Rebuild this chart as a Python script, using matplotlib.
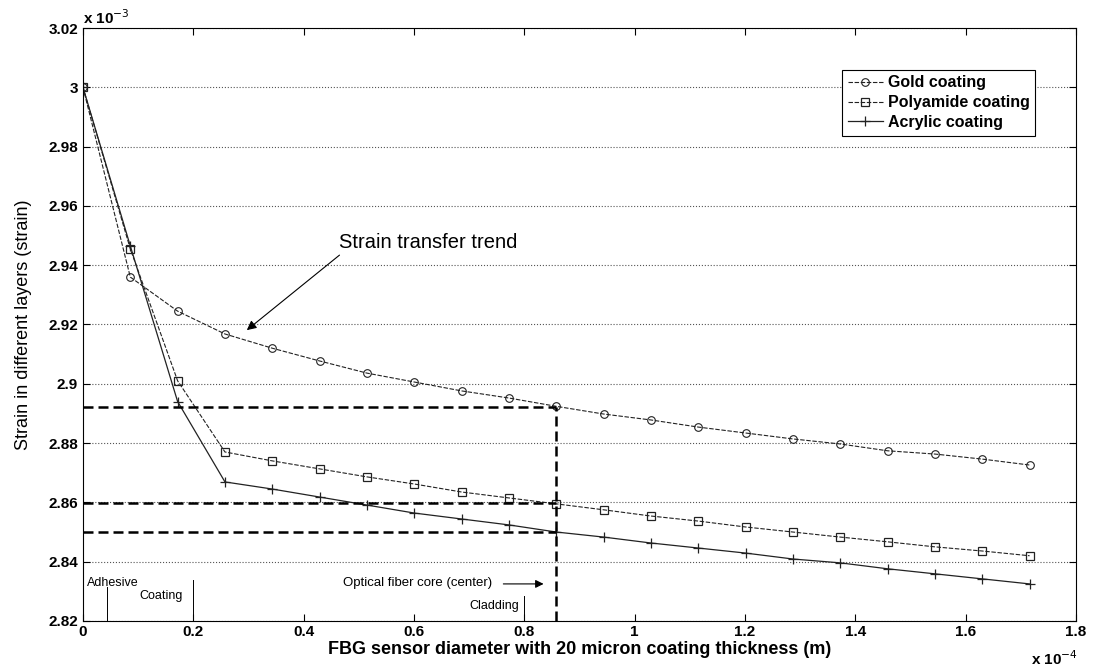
import numpy as np
import matplotlib
matplotlib.use('Agg')
import matplotlib.pyplot as plt

plt.rcParams['font.family'] = ['Liberation Sans', 'DejaVu Sans']

#region data (x in 1e-4 m, strain in 1e-3)
diameter = [0, 0.0858, 0.1716, 0.2574, 0.3432, 0.429, 0.5148, 0.6006, 0.6864, 0.7722, 0.858,
            0.9438, 1.0296, 1.1154, 1.2012, 1.287, 1.3728, 1.4586, 1.5444, 1.6302, 1.716]
gold = [3.000, 2.936, 2.9245, 2.9168, 2.912, 2.9077, 2.9036, 2.9006, 2.8976, 2.8952, 2.8924,
        2.8898, 2.8878, 2.8854, 2.8834, 2.8814, 2.8797, 2.8774, 2.8763, 2.8746, 2.8726]
polyamide = [3.000, 2.9455, 2.901, 2.877, 2.874, 2.8713, 2.8686, 2.8662, 2.8635, 2.8615, 2.8595,
             2.8575, 2.8554, 2.8537, 2.8517, 2.850, 2.8483, 2.8467, 2.845, 2.8436, 2.842]
acrylic = [3.000, 2.9465, 2.894, 2.8669, 2.8645, 2.8618, 2.8591, 2.8564, 2.8544, 2.8524, 2.850,
           2.8483, 2.8463, 2.8446, 2.8429, 2.8409, 2.8396, 2.8376, 2.8359, 2.8342, 2.8325]
series_names = ['Gold coating', 'Polyamide coating', 'Acrylic coating']

core_x = 0.858
level_gold = 2.8922
level_poly = 2.8597
level_acr = 2.850
#endregion

fig = plt.figure(figsize=[10.96, 6.67], dpi=100)
ax = fig.add_axes([0.0757, 0.069, 0.906, 0.889])

ax.plot(diameter, gold, color='#222222', lw=0.8, ls=(0, (4, 1.5)), marker='o', ms=5.5,
        mfc='none', mec='#222222', mew=0.8, label=series_names[0])
ax.plot(diameter, polyamide, color='#222222', lw=0.8, ls=(0, (4, 1.5)), marker='s', ms=6,
        mfc='none', mec='#222222', mew=0.9, label=series_names[1])
ax.plot(diameter, acrylic, color='#222222', lw=0.9, ls='-', marker='+', ms=7,
        mec='#222222', mew=0.9, label=series_names[2])

# dashed guide lines
for lev in [level_gold, level_poly, level_acr]:
    ax.plot([0, core_x], [lev, lev], color='black', lw=1.8, ls=(0, (4, 2)))
ax.plot([core_x, core_x], [2.82, level_gold], color='black', lw=1.8, ls=(0, (4, 2)))

# layer markers
ax.plot([0.0435, 0.0435], [2.82, 2.8315], color='black', lw=0.7)
ax.plot([0.2, 0.2], [2.82, 2.8339], color='black', lw=0.7)
ax.plot([0.8, 0.8], [2.82, 2.8285], color='black', lw=0.7)
ax.text(0.008, 2.8327, 'Adhesive', fontsize=9, va='center')
ax.text(0.103, 2.8285, 'Coating', fontsize=9, va='center')
ax.text(0.70, 2.8252, 'Cladding', fontsize=9, va='center')
ax.annotate('', xy=(0.84, 2.8325), xytext=(0.757, 2.8325),
            arrowprops=dict(arrowstyle='-|>', color='black', lw=0.8, mutation_scale=12))
ax.text(0.471, 2.8328, 'Optical fiber core (center)', fontsize=9.5, va='center')

ax.annotate('', xy=(0.297, 2.9181), xytext=(0.465, 2.9434),
            arrowprops=dict(arrowstyle='-|>', color='black', lw=0.8, mutation_scale=14,
                            shrinkA=0, shrinkB=0))
ax.text(0.465, 2.9478, 'Strain transfer trend', fontsize=14.5, va='center')

ax.set_xlim(0, 1.8)
ax.set_ylim(2.82, 3.02)
ax.set_xticks(np.arange(0, 1.81, 0.2))
ax.set_yticks(np.arange(2.82, 3.021, 0.02))
ax.set_xticklabels(['%g' % round(v, 2) for v in np.arange(0, 1.81, 0.2)], fontweight='bold')
ax.set_yticklabels(['%g' % round(v, 2) for v in np.arange(2.82, 3.021, 0.02)], fontweight='bold')
ax.tick_params(direction='in', top=True, right=True, labelsize=11, length=5)
ax.tick_params(axis='x', pad=3)
ax.grid(axis='y', ls=':', color='#555555', lw=0.8)

ax.text(0.0, 1.006, r'x 10$^{-3}$', transform=ax.transAxes, fontsize=11, fontweight='bold')
ax.text(0.955, -0.075, r'x 10$^{-4}$', transform=ax.transAxes, fontsize=11, fontweight='bold')

ax.set_xlabel('FBG sensor diameter with 20 micron coating thickness (m)', fontsize=13,
              fontweight='bold', labelpad=1)
ax.set_ylabel('Strain in different layers (strain)', fontsize=13, labelpad=12)

leg = ax.legend(loc='upper right', bbox_to_anchor=(0.967, 0.943), fontsize=11.5,
                fancybox=False, edgecolor='black', framealpha=1, handlelength=2.2,
                borderpad=0.35, labelspacing=0.3, handletextpad=0.3)
leg.get_frame().set_linewidth(0.8)
for t in leg.get_texts():
    t.set_fontweight('bold')

fig.savefig('out.png', dpi=100)
